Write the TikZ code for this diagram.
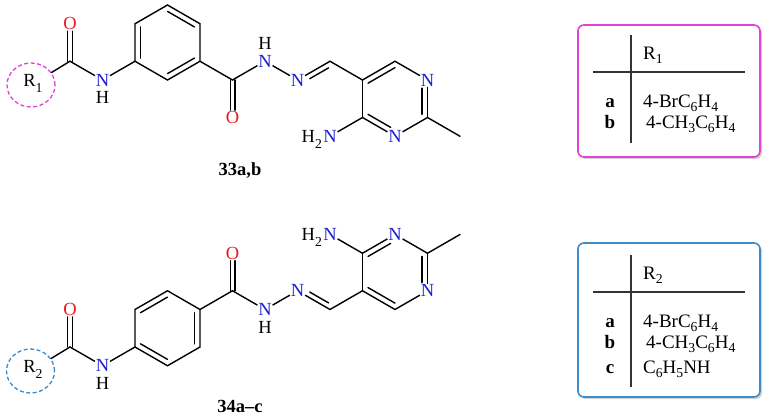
\documentclass[tikz,border=0pt]{standalone}
\usepackage{fontspec}
\setmainfont{Liberation Serif}
\usetikzlibrary{calc,shadows,shapes.geometric}
\definecolor{Nblue}{RGB}{30,30,210}
\definecolor{Ored}{RGB}{235,25,35}
\definecolor{magc}{RGB}{225,65,215}
\definecolor{cyanb}{RGB}{60,140,205}
\newcommand{\sbs}[1]{\raisebox{-0.32em}{\scalebox{0.74}{#1}}}
\newcommand{\tsb}[1]{\raisebox{-0.25em}{\scalebox{0.72}{#1}}}
\tikzset{
  bond/.style={line width=1.4pt, line cap=round},
  atomN/.style={text=Nblue, inner sep=1pt, font=\fontsize{18.5}{19}\selectfont},
  atomO/.style={text=Ored, inner sep=1pt, font=\fontsize{18.5}{19}\selectfont},
  atomH/.style={text=black, inner sep=1pt, font=\fontsize{18.5}{19}\selectfont},
  rgroup/.style={inner sep=0pt, font=\fontsize{18.5}{19}\selectfont},
  dcirc/.style={ellipse, draw, line width=1.3pt, minimum width=48pt, minimum height=44pt, inner sep=0pt, dash pattern=on 4pt off 2.5pt},
  tbox/.style={rounded corners=6pt, line width=1.6pt, fill=white, inner sep=0pt,
    drop shadow={shadow xshift=2pt, shadow yshift=-2pt, opacity=0.35}},
  tline/.style={line width=1.7pt, draw=black!80},
  ttext/.style={font=\fontsize{19}{20}\selectfont, anchor=base west, inner sep=0pt},
  tlab/.style={font=\bfseries\fontsize{19}{20}\selectfont, anchor=base, inner sep=0pt},
  cpd/.style={font=\bfseries\fontsize{18.5}{19}\selectfont, inner sep=0pt},
}
\begin{document}
\begin{tikzpicture}[x=1pt,y=-1pt]
\useasboundingbox (0,0) rectangle (769,418);

% ================= compound 33 =================
\node[dcirc, draw=magc] (c1) at (31,85) {};
\node[rgroup] (r1lab) at (33,83) {R\sbs{1}};
\coordinate (a1) at (70,61.25);
\node[atomO] (a1o) at (70,23.75) {O};
\node[atomN] (a1n) at (102.5,80) {N};
\node[atomH] (a1h) at (102.5,97.5) {H};
\coordinate (t1) at (135,61.25);
\coordinate (t2) at (135,23.75);
\coordinate (t3) at (167.5,5);
\coordinate (t4) at (200,23.75);
\coordinate (t5) at (200,61.25);
\coordinate (t6) at (167.5,80);
\coordinate (tc) at (167.5,42.5);
\coordinate (a2) at (232.5,80);
\node[atomO] (a2o) at (232.5,117.5) {O};
\node[atomN] (hn1) at (265,61.25) {N};
\node[atomH] (hn1h) at (265,43) {H};
\node[atomN] (hn2) at (297.5,80) {N};
\coordinate (ch) at (330,61.25);
\coordinate (p1) at (362.5,80);
\coordinate (p2) at (395,61.25);
\node[atomN] (p3) at (427.5,80) {N};
\coordinate (p4) at (427.5,117.5);
\node[atomN] (p5) at (395,136.25) {N};
\coordinate (p6) at (362.5,117.5);
\coordinate (pc) at (395,98.75);
\coordinate (me) at (460,136.25);
\node[atomN] (nh2) at (330,136.25) {N};
\node[atomH, anchor=base east, inner sep=0pt] (nh2h) at (nh2.base west) {H\sbs{2}};

\draw[bond] (c1) -- (a1);
\draw[bond] (a1) -- (a1n);
\draw[bond] (a1n) -- (t1);
\draw[bond] ($(a1)+(-2.3,0)$) -- ($(a1o.south)+(-2.3,0)$);
\draw[bond] ($(a1)+(2.3,0)$) -- ($(a1o.south)+(2.3,0)$);
\draw[bond] (t1) -- (t2) -- (t3) -- (t4) -- (t5) -- (t6) -- cycle;
\draw[bond] ($(t1)!0.17!(tc)$) -- ($(t2)!0.17!(tc)$);
\draw[bond] ($(t3)!0.17!(tc)$) -- ($(t4)!0.17!(tc)$);
\draw[bond] ($(t5)!0.17!(tc)$) -- ($(t6)!0.17!(tc)$);
\draw[bond] (t5) -- (a2);
\draw[bond] ($(a2)+(-2.3,0)$) -- ($(a2o.north)+(-2.3,0)$);
\draw[bond] ($(a2)+(2.3,0)$) -- ($(a2o.north)+(2.3,0)$);
\draw[bond] (a2) -- (hn1);
\draw[bond] (hn1) -- (hn2);
\draw[bond] (hn2) -- (ch);
\draw[bond] ($(hn2.center)!0.3!(ch)+(2.5,4.33)$) -- ($(hn2.center)!0.88!(ch)+(2.5,4.33)$);
\draw[bond] (ch) -- (p1);
\draw[bond] (p1) -- (p2);
\draw[bond] (p2) -- (p3);
\draw[bond] (p3) -- (p4);
\draw[bond] (p4) -- (p5);
\draw[bond] (p5) -- (p6);
\draw[bond] (p6) -- (p1);
\draw[bond] ($(p1)!0.17!(pc)$) -- ($(p2)!0.17!(pc)$);
\draw[bond, shorten <=5pt] ($(p3.center)!0.17!(pc)$) -- ($(p4)!0.17!(pc)$);
\draw[bond, shorten <=5pt] ($(p5.center)!0.17!(pc)$) -- ($(p6)!0.17!(pc)$);
\draw[bond] (p4) -- (me);
\draw[bond] (p6) -- (nh2);
\node[cpd] (lab33) at (240,171) {33a,b};

% ================= compound 34 =================
\node[dcirc, draw=cyanb] (c2) at (30.5,371) {};
\node[rgroup] (r2lab) at (33,369) {R\sbs{2}};
\coordinate (b1) at (70,347);
\node[atomO] (b1o) at (70,309.5) {O};
\node[atomN] (b1n) at (102.5,365.75) {N};
\node[atomH] (b1h) at (102.5,383) {H};
\coordinate (u1) at (135,347);
\coordinate (u2) at (135,309.5);
\coordinate (u3) at (167.5,290.75);
\coordinate (u4) at (200,309.5);
\coordinate (u5) at (200,347);
\coordinate (u6) at (167.5,365.75);
\coordinate (uc) at (167.5,328.25);
\coordinate (b2) at (232.5,290.75);
\node[atomO] (b2o) at (232.5,253.25) {O};
\node[atomN] (bn1) at (265,309.5) {N};
\node[atomH] (bn1h) at (265,327) {H};
\node[atomN] (bn2) at (297.5,290.75) {N};
\coordinate (bch) at (330,309.5);
\coordinate (q1) at (362.5,290.75);
\coordinate (q2) at (395,309.5);
\node[atomN] (q3) at (427.5,290.75) {N};
\coordinate (q4) at (427.5,253.25);
\node[atomN] (q5) at (395,234.5) {N};
\coordinate (q6) at (362.5,253.25);
\coordinate (qc) at (395,272);
\coordinate (me2) at (460,234.5);
\node[atomN] (nh2b) at (330,234.5) {N};
\node[atomH, anchor=base east, inner sep=0pt] (nh2bh) at (nh2b.base west) {H\sbs{2}};

\draw[bond] (c2) -- (b1);
\draw[bond] (b1) -- (b1n);
\draw[bond] (b1n) -- (u1);
\draw[bond] ($(b1)+(-2.3,0)$) -- ($(b1o.south)+(-2.3,0)$);
\draw[bond] ($(b1)+(2.3,0)$) -- ($(b1o.south)+(2.3,0)$);
\draw[bond] (u1) -- (u2) -- (u3) -- (u4) -- (u5) -- (u6) -- cycle;
\draw[bond] ($(u2)!0.17!(uc)$) -- ($(u3)!0.17!(uc)$);
\draw[bond] ($(u4)!0.17!(uc)$) -- ($(u5)!0.17!(uc)$);
\draw[bond] ($(u6)!0.17!(uc)$) -- ($(u1)!0.17!(uc)$);
\draw[bond] (u4) -- (b2);
\draw[bond] ($(b2)+(-2.3,0)$) -- ($(b2o.south)+(-2.3,0)$);
\draw[bond] ($(b2)+(2.3,0)$) -- ($(b2o.south)+(2.3,0)$);
\draw[bond] (b2) -- (bn1);
\draw[bond] (bn1) -- (bn2);
\draw[bond] (bn2) -- (bch);
\draw[bond] ($(bn2.center)!0.3!(bch)+(2.5,-4.33)$) -- ($(bn2.center)!0.88!(bch)+(2.5,-4.33)$);
\draw[bond] (bch) -- (q1);
\draw[bond] (q1) -- (q2);
\draw[bond] (q2) -- (q3);
\draw[bond] (q3) -- (q4);
\draw[bond] (q4) -- (q5);
\draw[bond] (q5) -- (q6);
\draw[bond] (q6) -- (q1);
\draw[bond] ($(q1)!0.17!(qc)$) -- ($(q2)!0.17!(qc)$);
\draw[bond, shorten <=5pt] ($(q3.center)!0.17!(qc)$) -- ($(q4)!0.17!(qc)$);
\draw[bond, shorten <=5pt] ($(q5.center)!0.17!(qc)$) -- ($(q6)!0.17!(qc)$);
\draw[bond] (q4) -- (me2);
\draw[bond] (q6) -- (nh2b);
\node[cpd] (lab34) at (240,406) {34a--c};

% ================= tables =================
\node[tbox, draw=magc, minimum width=182pt, minimum height=132pt] (box1) at (669,91) {};
\draw[tline] (631,35) -- (631,143);
\draw[tline] (593,72) -- (745,72);
\node[ttext] (h1) at (643,59) {R\tsb{1}};
\node[tlab] (k1a) at (610,107) {a};
\node[ttext] (v1a) at (643,107) {4-BrC\tsb{6}H\tsb{4}};
\node[tlab] (k1b) at (610,128) {b};
\node[ttext] (v1b) at (646,128) {4-CH\tsb{3}C\tsb{6}H\tsb{4}};

\node[tbox, draw=cyanb, minimum width=182pt, minimum height=154pt] (box2) at (669,320) {};
\draw[tline] (631,255) -- (631,387);
\draw[tline] (593,292) -- (745,292);
\node[ttext] (h2) at (643,279) {R\tsb{2}};
\node[tlab] (k2a) at (610,327) {a};
\node[ttext] (v2a) at (643,327) {4-BrC\tsb{6}H\tsb{4}};
\node[tlab] (k2b) at (610,348) {b};
\node[ttext] (v2b) at (646,348) {4-CH\tsb{3}C\tsb{6}H\tsb{4}};
\node[tlab] (k2c) at (610,373) {c};
\node[ttext] (v2c) at (643,373) {C\tsb{6}H\tsb{5}NH};
\end{tikzpicture}
\end{document}
